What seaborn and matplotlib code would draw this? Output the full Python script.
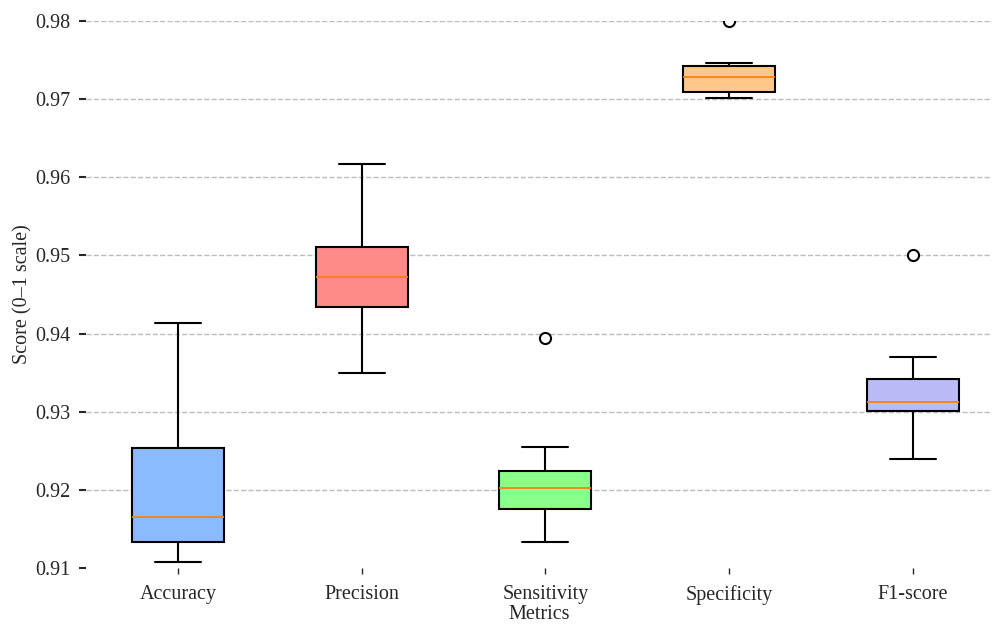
import pandas as pd
import numpy as np
import matplotlib
matplotlib.use('Agg')
import matplotlib.pyplot as plt
import seaborn as sns

# scores per metric
metrics = ['Accuracy', 'Precision', 'Sensitivity', 'Specificity', 'F1-score']
accuracy = [0.9108, 0.9120, 0.9133, 0.9150, 0.9165, 0.9200, 0.9254, 0.9330, 0.9414]
precision = [0.9350, 0.9400, 0.9434, 0.9450, 0.9472, 0.9490, 0.9511, 0.9560, 0.9617]
sensitivity = [0.9133, 0.9150, 0.9176, 0.9190, 0.9202, 0.9210, 0.9224, 0.9255, 0.9394]
specificity = [0.9702, 0.9705, 0.9709, 0.9720, 0.9728, 0.9735, 0.9742, 0.9746, 0.9800]
f1_score = [0.9240, 0.9270, 0.9301, 0.9305, 0.9312, 0.9330, 0.9342, 0.9370, 0.9500]
colors = ['#8abbff', '#ff8a8a', '#8aff8a', '#ffc88a', '#babaf7']

df = pd.DataFrame({
    'Metric': np.repeat(metrics, 9),
    'Score': accuracy + precision + sensitivity + specificity + f1_score,
})

sns.set_style('white')
plt.rcParams['font.family'] = ['Liberation Serif', 'DejaVu Serif']

fig, ax = plt.subplots(figsize=(9.92, 6.25), dpi=100)
fig.subplots_adjust(left=86/992, right=1.0, top=1-21/625, bottom=1-568/625)

ax.yaxis.grid(True, linestyle='--', color='#bbbbbb', linewidth=1)
ax.set_axisbelow(True)

sns.boxplot(data=df, x='Metric', y='Score', hue='Metric', palette=colors,
            saturation=1, legend=False, width=0.5, linecolor='black', linewidth=1.5,
            medianprops={'color': '#ff7f0e', 'linewidth': 1.3},
            flierprops={'marker': 'o', 'markersize': 8, 'markerfacecolor': 'white',
                        'markeredgecolor': 'black', 'markeredgewidth': 1.5},
            ax=ax)

ax.set_ylim(0.91, 0.98)
ax.set_xlim(-0.5, 4.43)
ax.set_yticks([0.91, 0.92, 0.93, 0.94, 0.95, 0.96, 0.97, 0.98])
ax.set_yticklabels(['0.91', '0.92', '0.93', '0.94', '0.95', '0.96', '0.97', '0.98'])
ax.get_ygridlines()[0].set_visible(False)
sns.despine(ax=ax, left=True, bottom=True)
ax.tick_params(axis='y', left=True, length=5, width=1.5, labelsize=14.5, pad=6)
ax.tick_params(axis='x', bottom=True, length=4, width=1, labelsize=14.5, pad=8)
ax.set_xlabel('Metrics', fontsize=14.5, labelpad=0)
ax.set_ylabel('Score (0\u20131 scale)', fontsize=14.5, labelpad=2)

fig.savefig('out.png', dpi=100)
